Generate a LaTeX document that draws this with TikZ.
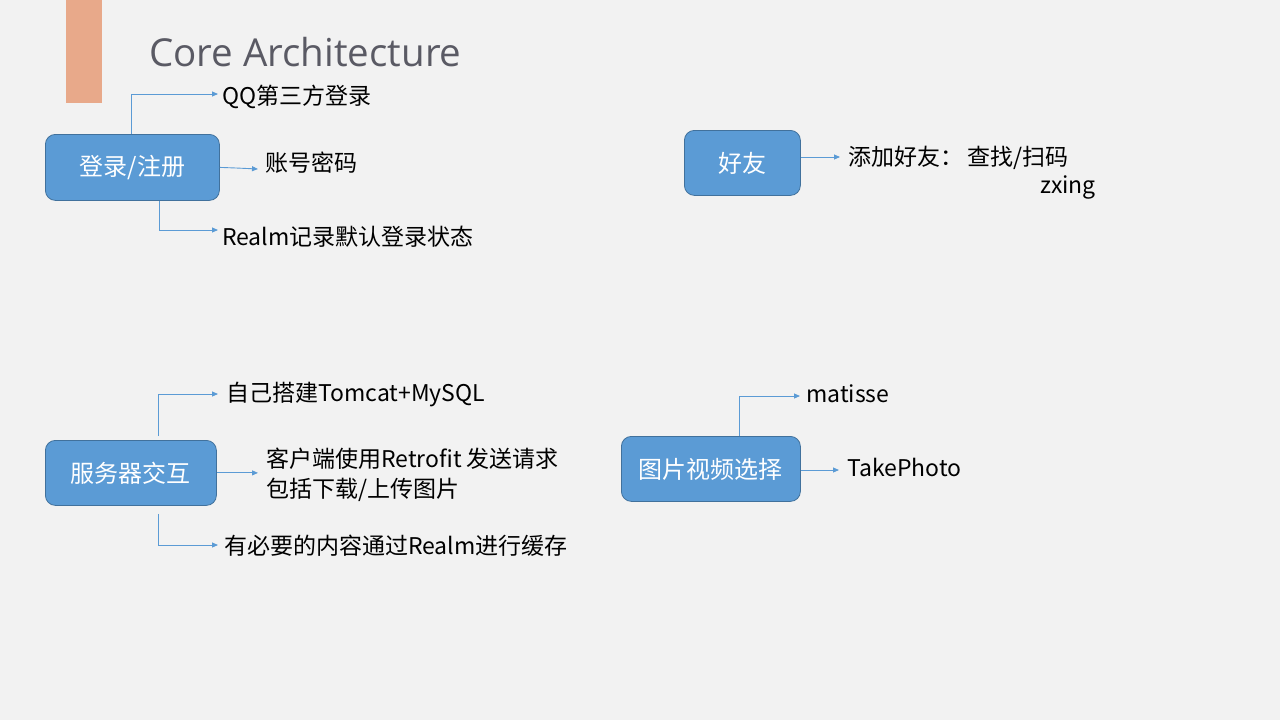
\documentclass[tikz,border=0pt]{standalone}
\usepackage{fontspec}
\newfontfamily\cjk{Noto Sans CJK SC}
\newfontfamily\titlefont{Open Sans}
\usetikzlibrary{arrows.meta}
\definecolor{bg}{HTML}{F2F2F2}
\definecolor{bar}{HTML}{E8A98A}
\definecolor{boxfill}{HTML}{5B9BD5}
\definecolor{boxline}{HTML}{41719C}
\definecolor{titlegray}{HTML}{5A5A64}
\definecolor{conn}{HTML}{5B9BD5}
\begin{document}
\begin{tikzpicture}[x=1pt,y=-1pt,
  box/.style={draw=boxline,fill=boxfill,rounded corners=10pt,line width=0.8pt,
    text=white,font=\cjk\fontsize{24}{28}\selectfont,inner sep=0pt,anchor=north west},
  lbl/.style={anchor=west,inner sep=0pt,font=\cjk\fontsize{23}{30}\selectfont,text=black,align=left},
  conn/.style={draw=conn,line width=0.9pt,-{Triangle[length=6pt,width=5pt]}}]
\useasboundingbox (0,0) rectangle (1280,720);
\fill[bg] (0,0) rectangle (1280,720);
\fill[bar] (66,0) rectangle (102,103);
\node[anchor=west,inner sep=0pt,text=titlegray,font=\titlefont\fontsize{38.5}{46}\selectfont] (title) at (149,52) {Core Architecture};

% box 1
\node[box,minimum width=174pt,minimum height=66pt] (b1) at (45,134) {登录/注册};
\node[lbl] (qq) at (222,97) {QQ第三方登录};
\node[lbl] (zh) at (265,163) {账号密码};
\node[lbl] (realm) at (222,237) {Realm记录默认登录状态};
\draw[conn] ([xshift=-1pt]b1.north) |- ([xshift=-4pt]qq.west |- 0,94);
\coordinate (j1) at (236,168);
\draw[conn] (b1.east) -- (j1) -- ([xshift=-7pt]zh.west |- 0,169);
\draw[conn] ([xshift=27pt]b1.south) |- ([xshift=-4pt]realm.west |- 0,230);

% box 2
\node[box,minimum width=116pt,minimum height=65pt] (b2) at (684,130) {好友};
\node[lbl] (add) at (848,158) {添加好友：\,查找/扫码};
\node[lbl] (zx) at (1040,187) {zxing};
\draw[conn] (b2.east |- 0,157) -- ([xshift=-8pt]add.west |- 0,157);

% box 3
\node[box,minimum width=171pt,minimum height=65pt] (b3) at (45,440) {服务器交互};
\node[lbl] (tom) at (226,395) {自己搭建Tomcat+MySQL};
\node[lbl] (ret) at (266,475) {客户端使用Retrofit 发送请求\\包括下载/上传图片};
\node[lbl] (cache) at (224,546) {有必要的内容通过Realm进行缓存};
\draw[conn] ([xshift=28pt,yshift=4pt]b3.north) |- ([xshift=-8pt]tom.west |- 0,394);
\draw[conn] (b3.east) -- ([xshift=-8pt]ret.west |- b3.east);
\draw[conn] ([xshift=28pt,yshift=-8pt]b3.south) |- ([xshift=-6pt]cache.west |- 0,545);

% box 4
\node[box,minimum width=179pt,minimum height=65pt] (b4) at (621,436) {图片视频选择};
\node[lbl] (mat) at (806,394) {matisse};
\node[lbl] (tp) at (847,467) {TakePhoto};
\draw[conn] ([xshift=29pt]b4.north) |- ([xshift=-6pt]mat.west |- 0,396);
\draw[conn] (b4.east |- 0,470) -- ([xshift=-8pt]tp.west |- 0,470);
\end{tikzpicture}
\end{document}
